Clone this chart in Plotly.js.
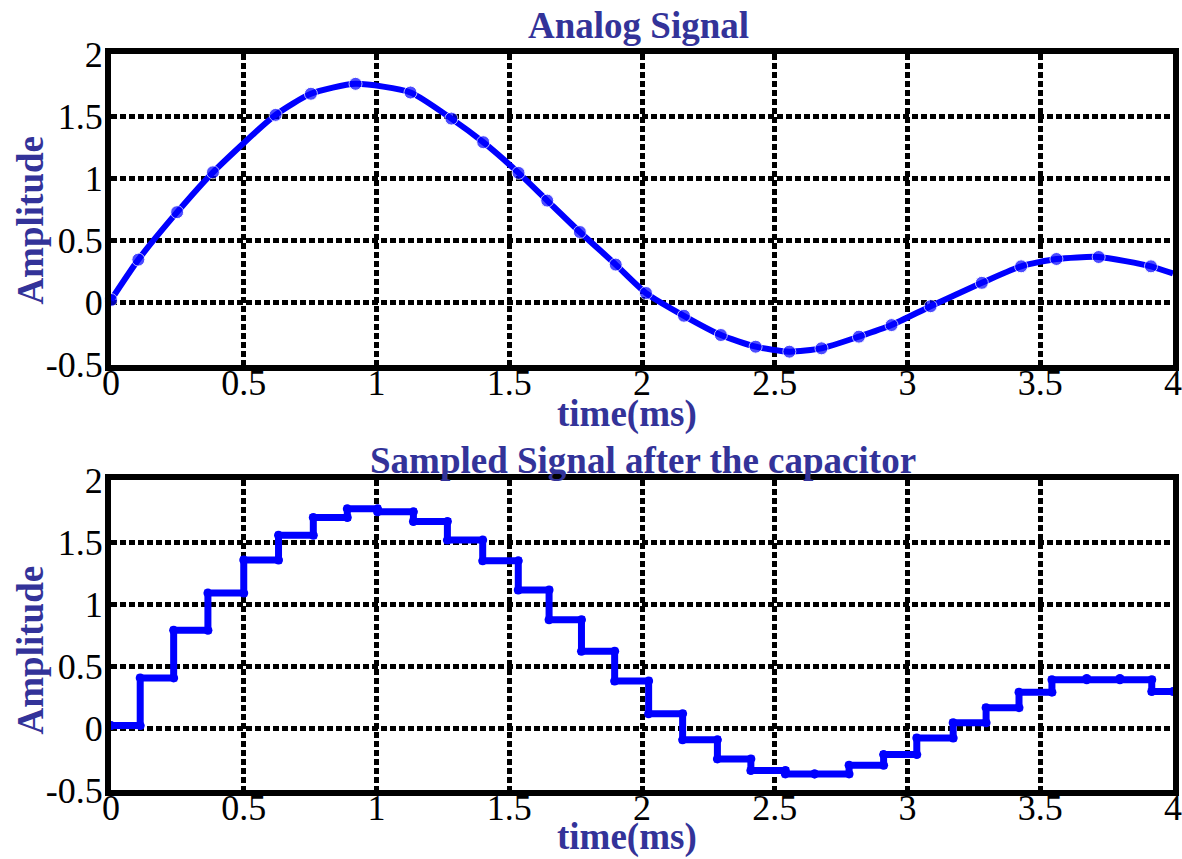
<!DOCTYPE html>
<html>
<head>
<meta charset="utf-8">
<script src="https://cdn.plot.ly/plotly-3.0.1.min.js"></script>
<style>
  html, body { margin: 0; padding: 0; background: #ffffff; }
  #chart { width: 1182px; height: 859px; }
</style>
</head>
<body>
<div id="chart"></div>
<script>
// ---- Data ----
// Analog signal: points of the plotted curve (time in ms, amplitude)
const analogTime = [0, 0.103, 0.249, 0.384, 0.62, 0.753, 0.921, 1.128, 1.282, 1.402, 1.535, 1.643, 1.766, 1.901, 2.015,
  2.158, 2.297, 2.428, 2.555, 2.676, 2.817, 2.94, 3.087, 3.28, 3.428, 3.561, 3.72, 3.917, 4.0];
const analogAmp = [0.02, 0.345, 0.727, 1.048, 1.51, 1.68, 1.76, 1.69, 1.48, 1.29, 1.043, 0.82, 0.567, 0.305, 0.076,
  -0.107, -0.262, -0.356, -0.396, -0.369, -0.275, -0.182, -0.03, 0.158, 0.291, 0.35, 0.366, 0.291, 0.233];
// Curve points that carry a marker (the final end point has none)
const analogMarked = [1,1,1,1,1,1,1,1,1,1,1,1,1,1,1,1,1,1,1,1,1,1,1,1,1,1,1,1,0];

// Sampled (held) signal: hold interval edges (ms) and the held level in each interval
const holdEdges = [0, 0.11, 0.236, 0.365, 0.5, 0.631, 0.762, 0.89, 1.004, 1.139, 1.267, 1.40, 1.534, 1.65, 1.772, 1.897,
  2.025, 2.153, 2.284, 2.41, 2.54, 2.65, 2.78, 2.91, 3.035, 3.172, 3.296, 3.42, 3.544, 3.675, 3.80, 3.92, 4.0];
const holdLevels = [0.02, 0.405, 0.79, 1.09, 1.357, 1.557, 1.70, 1.77, 1.746, 1.668, 1.518, 1.35, 1.115, 0.875, 0.62, 0.38,
  0.116, -0.095, -0.249, -0.343, -0.37, -0.37, -0.30, -0.214, -0.08, 0.043, 0.165, 0.29, 0.39, 0.40, 0.39, 0.295];

// Tick labels
const xTickVals = [0, 0.5, 1, 1.5, 2, 2.5, 3, 3.5, 4];
const xTickText = ['0', '0.5', '1', '1.5', '2', '2.5', '3', '3.5', '4'];
const yTickVals = [-0.5, 0, 0.5, 1, 1.5, 2];
const yTickText = ['-0.5', '0', '0.5', '1', '1.5', '2'];

// Texts
const topTitle = 'Analog Signal';
const bottomTitle = 'Sampled Signal after the capacitor';
const xTitle = 'time(ms)';
const yTitle = 'Amplitude';

// ---- Build traces ----
const stairX = [], stairY = [];
for (let i = 0; i < holdLevels.length; i++) {
  stairX.push(holdEdges[i], holdEdges[i + 1]);
  stairY.push(holdLevels[i], holdLevels[i]);
}

const blue = '#0000ff';
const navy = '#333399';

const traces = [
  {
    x: analogTime, y: analogAmp, xaxis: 'x', yaxis: 'y',
    type: 'scatter', mode: 'lines+markers', cliponaxis: false,
    line: { color: blue, width: 6, shape: 'spline', smoothing: 0.6 },
    marker: { color: blue, size: analogMarked.map(m => m ? 13 : 0) },
    hoverinfo: 'x+y'
  },
  {
    x: stairX, y: stairY, xaxis: 'x2', yaxis: 'y2',
    type: 'scatter', mode: 'lines+markers', cliponaxis: false,
    line: { color: blue, width: 7 },
    marker: { color: blue, size: 9 },
    hoverinfo: 'x+y'
  }
];

const tickFont = { family: '"Liberation Serif", "Times New Roman", serif', size: 36, color: '#000000' };
const textFont = { family: '"Liberation Serif", "Times New Roman", serif', size: 37, color: navy, weight: 'bold' };

function xAxis(anchor) {
  return {
    anchor: anchor, domain: [0, 1], range: [0, 4],
    tickmode: 'array', tickvals: xTickVals, ticktext: xTickText,
    ticks: '', tickfont: tickFont, ticklabelstandoff: -19, ticklabeloverflow: 'allow',
    showgrid: true, gridcolor: '#000000', gridwidth: 5, griddash: '6px,3px',
    zeroline: false, showline: true, linecolor: '#000000', linewidth: 6, mirror: true,
    fixedrange: true
  };
}
function yAxis(anchor, domain) {
  return {
    anchor: anchor, domain: domain, range: [-0.5, 2],
    tickmode: 'array', tickvals: yTickVals, ticktext: yTickText,
    ticks: '', tickfont: tickFont, ticklabelstandoff: -5, ticklabeloverflow: 'allow',
    showgrid: true, gridcolor: '#000000', gridwidth: 5, griddash: '6px,3px',
    zeroline: false, showline: true, linecolor: '#000000', linewidth: 6, mirror: true,
    fixedrange: true
  };
}

const topDomain = [0.578, 1];
const bottomDomain = [0, 0.4207];

const layout = {
  width: 1182, height: 859,
  margin: { l: 111, r: 9, t: 54, b: 69 },
  paper_bgcolor: '#ffffff', plot_bgcolor: '#ffffff',
  showlegend: false,
  xaxis: xAxis('y'),
  yaxis: yAxis('x', topDomain),
  xaxis2: xAxis('y2'),
  yaxis2: yAxis('x2', bottomDomain),
  annotations: [
    { text: topTitle, xref: 'paper', yref: 'paper', x: 0.497, y: 1.0387, xanchor: 'center', yanchor: 'middle', showarrow: false, font: textFont },
    { text: bottomTitle, xref: 'paper', yref: 'paper', x: 0.501, y: 0.4483, xanchor: 'center', yanchor: 'middle', showarrow: false, font: textFont },
    { text: xTitle, xref: 'paper', yref: 'paper', x: 0.486, y: 0.511, xanchor: 'center', yanchor: 'middle', showarrow: false, font: textFont },
    { text: xTitle, xref: 'paper', yref: 'paper', x: 0.486, y: -0.064, xanchor: 'center', yanchor: 'middle', showarrow: false, font: textFont },
    { text: yTitle, xref: 'paper', yref: 'paper', x: -0.076, y: 0.774, xanchor: 'center', yanchor: 'middle', textangle: -90, showarrow: false, font: textFont },
    { text: yTitle, xref: 'paper', yref: 'paper', x: -0.076, y: 0.190, xanchor: 'center', yanchor: 'middle', textangle: -90, showarrow: false, font: textFont }
  ]
};

Plotly.newPlot('chart', traces, layout, { displayModeBar: false, responsive: false });
</script>
</body>
</html>
